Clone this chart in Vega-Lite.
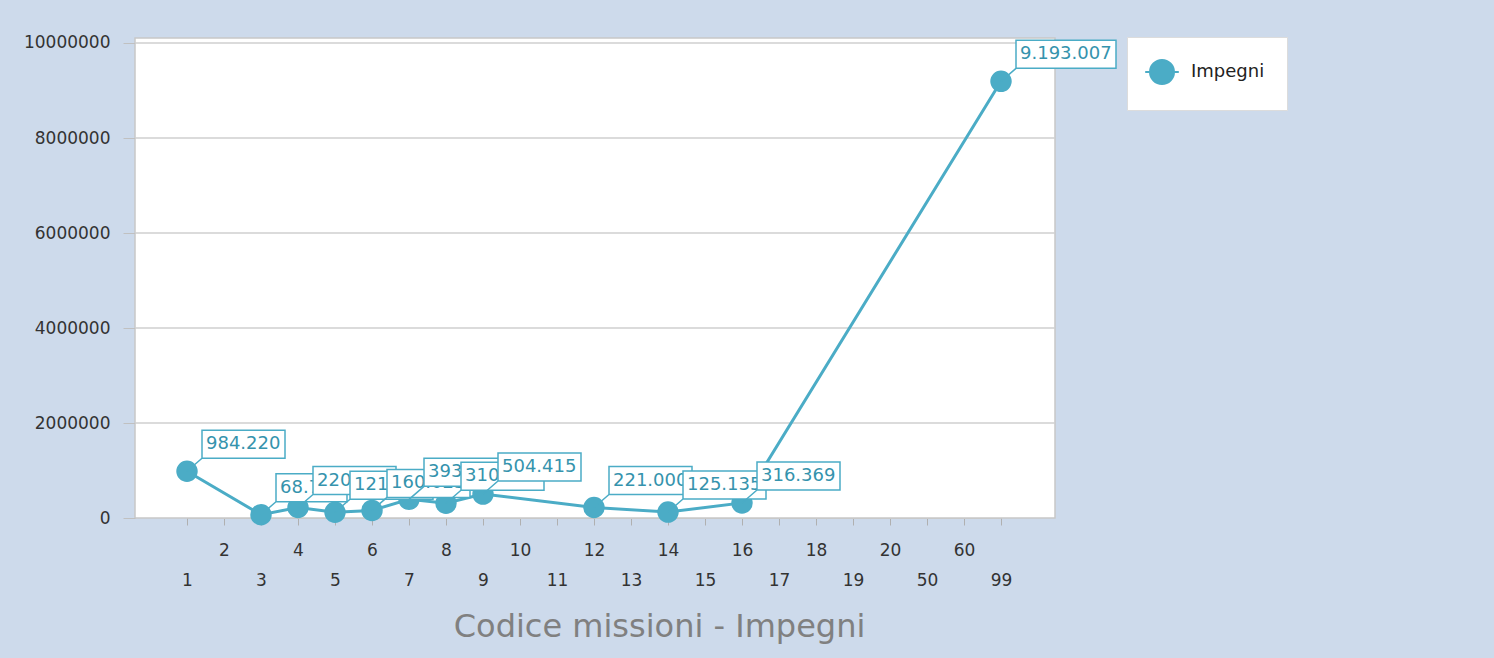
{
  "$schema": "https://vega.github.io/schema/vega-lite/v6.json",
  "width": 920,
  "height": 480,
  "autosize": {"type": "none"},
  "padding": {"left": 135, "top": 38, "right": 439, "bottom": 140},
  "background": "#cddaeb",
  "config": {
    "font": "DejaVu Sans",
    "locale": {"number": {"decimal": ",", "thousands": ".", "grouping": [3], "currency": ["€", ""]}},
    "view": {"fill": "white", "stroke": "#c8c8c8", "strokeWidth": 1.5},
    "axisY": {
      "title": null,
      "values": [0, 2000000, 4000000, 6000000, 8000000, 10000000],
      "format": "d",
      "labelFontSize": 17,
      "labelColor": "#333333",
      "tickSize": 12,
      "tickColor": "#c0c0c0",
      "labelPadding": 13,
      "domain": false,
      "grid": false
    }
  },
  "datasets": {
    "impegni": [
      {"codice": "1", "impegni": 984220},
      {"codice": "3", "impegni": 68736},
      {"codice": "4", "impegni": 220478},
      {"codice": "5", "impegni": 121560},
      {"codice": "6", "impegni": 160025},
      {"codice": "7", "impegni": 393120},
      {"codice": "8", "impegni": 310540},
      {"codice": "9", "impegni": 504415},
      {"codice": "12", "impegni": 221000},
      {"codice": "14", "impegni": 125135},
      {"codice": "16", "impegni": 316369},
      {"codice": "99", "impegni": 9193007}
    ],
    "griglia": [
      {"g": 2000000}, {"g": 4000000}, {"g": 6000000}, {"g": 8000000}, {"g": 10000000}
    ]
  },
  "layer": [
    {
      "data": {"name": "griglia"},
      "mark": {"type": "rule", "color": "#cfcfcf", "strokeWidth": 1.5},
      "encoding": {
        "y": {
          "field": "g",
          "type": "quantitative",
          "title": null,
          "scale": {"domain": [0, 10105263], "nice": false},
          "axis": {"values": [0, 2000000, 4000000, 6000000, 8000000, 10000000], "format": "d"}
        }
      }
    },
    {
      "data": {"name": "impegni"},
      "encoding": {
        "x": {
          "field": "codice",
          "type": "nominal",
          "scale": {"type": "point", "padding": 0, "range": [52, 866], "domain": ["1","2","3","4","5","6","7","8","9","10","11","12","13","14","15","16","17","18","19","20","50","60","99"]},
          "axis": {
            "title": "Codice missioni - Impegni",
            "titleFontSize": 32,
            "titleFontWeight": "normal",
            "titleColor": "#808080",
            "titleX": 524,
            "titleY": 118,
            "titleBaseline": "alphabetic",
            "titleAlign": "center",
            "labelAngle": 0,
            "labelFontSize": 17,
            "labelColor": "#333333",
            "labelBaseline": "top",
            "labelOverlap": false,
            "labelPadding": {"condition": {"test": "indexof(['2','4','6','8','10','12','14','16','18','20','60'], datum.value) >= 0", "value": 17}, "value": 47},
            "tickSize": 7,
            "tickColor": "#b0b0b0",
            "domainColor": "#c8c8c8",
            "grid": false
          }
        },
        "y": {
          "field": "impegni",
          "type": "quantitative",
          "title": null,
          "scale": {"domain": [0, 10105263], "nice": false},
          "axis": {"values": [0, 2000000, 4000000, 6000000, 8000000, 10000000], "format": "d"}
        }
      },
      "layer": [
        {"mark": {"type": "line", "color": "#4bacc6", "strokeWidth": 3}},
        {
          "mark": {"type": "point", "filled": true, "size": 460, "opacity": 1},
          "encoding": {
            "color": {
              "datum": "Impegni",
              "type": "nominal",
              "scale": {"range": ["#4bacc6"]},
              "legend": {
                "title": null,
                "orient": "none",
                "legendX": 992,
                "legendY": -1,
                "fillColor": "white",
                "strokeColor": "#dcdcdc",
                "padding": 22,
                "symbolType": "M-1.4,0L-1,0M1,0L1.4,0M-1,0A1,1,0,1,1,1,0A1,1,0,1,1,-1,0Z",
                "symbolSize": 576,
                "symbolFillColor": "#4bacc6",
                "symbolStrokeColor": "#4bacc6",
                "symbolStrokeWidth": 2,
                "labelFontSize": 18,
                "labelColor": "#222222",
                "labelOffset": 16
              }
            }
          }
        },
        {"transform": [{"filter": "datum.codice === '1'"}], "layer": [
          {"mark": {"type": "point", "shape": "M0,0L0.15,-0.13M0.15,-0.13L0.98,-0.13L0.98,-0.41L0.15,-0.41Z", "size": 40000, "filled": true, "fill": "white", "fillOpacity": 1, "opacity": 1, "stroke": "#4bacc6", "strokeWidth": 1.5}},
          {"mark": {"type": "text", "align": "left", "baseline": "middle", "dx": 19, "dy": -27, "fontSize": 18, "color": "#3593ad"}, "encoding": {"text": {"field": "impegni", "type": "quantitative", "format": ",d"}}}
        ]},
        {"transform": [{"filter": "datum.codice === '3'"}], "layer": [
          {"mark": {"type": "point", "shape": "M0,0L0.15,-0.13M0.15,-0.13L0.86,-0.13L0.86,-0.41L0.15,-0.41Z", "size": 40000, "filled": true, "fill": "white", "fillOpacity": 1, "opacity": 1, "stroke": "#4bacc6", "strokeWidth": 1.5}},
          {"mark": {"type": "text", "align": "left", "baseline": "middle", "dx": 19, "dy": -27, "fontSize": 18, "color": "#3593ad"}, "encoding": {"text": {"field": "impegni", "type": "quantitative", "format": ",d"}}}
        ]},
        {"transform": [{"filter": "datum.codice === '4'"}], "layer": [
          {"mark": {"type": "point", "shape": "M0,0L0.15,-0.13M0.15,-0.13L0.98,-0.13L0.98,-0.41L0.15,-0.41Z", "size": 40000, "filled": true, "fill": "white", "fillOpacity": 1, "opacity": 1, "stroke": "#4bacc6", "strokeWidth": 1.5}},
          {"mark": {"type": "text", "align": "left", "baseline": "middle", "dx": 19, "dy": -27, "fontSize": 18, "color": "#3593ad"}, "encoding": {"text": {"field": "impegni", "type": "quantitative", "format": ",d"}}}
        ]},
        {"transform": [{"filter": "datum.codice === '5'"}], "layer": [
          {"mark": {"type": "point", "shape": "M0,0L0.15,-0.13M0.15,-0.13L0.98,-0.13L0.98,-0.41L0.15,-0.41Z", "size": 40000, "filled": true, "fill": "white", "fillOpacity": 1, "opacity": 1, "stroke": "#4bacc6", "strokeWidth": 1.5}},
          {"mark": {"type": "text", "align": "left", "baseline": "middle", "dx": 19, "dy": -27, "fontSize": 18, "color": "#3593ad"}, "encoding": {"text": {"field": "impegni", "type": "quantitative", "format": ",d"}}}
        ]},
        {"transform": [{"filter": "datum.codice === '6'"}], "layer": [
          {"mark": {"type": "point", "shape": "M0,0L0.15,-0.13M0.15,-0.13L0.98,-0.13L0.98,-0.41L0.15,-0.41Z", "size": 40000, "filled": true, "fill": "white", "fillOpacity": 1, "opacity": 1, "stroke": "#4bacc6", "strokeWidth": 1.5}},
          {"mark": {"type": "text", "align": "left", "baseline": "middle", "dx": 19, "dy": -27, "fontSize": 18, "color": "#3593ad"}, "encoding": {"text": {"field": "impegni", "type": "quantitative", "format": ",d"}}}
        ]},
        {"transform": [{"filter": "datum.codice === '7'"}], "layer": [
          {"mark": {"type": "point", "shape": "M0,0L0.15,-0.13M0.15,-0.13L0.98,-0.13L0.98,-0.41L0.15,-0.41Z", "size": 40000, "filled": true, "fill": "white", "fillOpacity": 1, "opacity": 1, "stroke": "#4bacc6", "strokeWidth": 1.5}},
          {"mark": {"type": "text", "align": "left", "baseline": "middle", "dx": 19, "dy": -27, "fontSize": 18, "color": "#3593ad"}, "encoding": {"text": {"field": "impegni", "type": "quantitative", "format": ",d"}}}
        ]},
        {"transform": [{"filter": "datum.codice === '8'"}], "layer": [
          {"mark": {"type": "point", "shape": "M0,0L0.15,-0.13M0.15,-0.13L0.98,-0.13L0.98,-0.41L0.15,-0.41Z", "size": 40000, "filled": true, "fill": "white", "fillOpacity": 1, "opacity": 1, "stroke": "#4bacc6", "strokeWidth": 1.5}},
          {"mark": {"type": "text", "align": "left", "baseline": "middle", "dx": 19, "dy": -27, "fontSize": 18, "color": "#3593ad"}, "encoding": {"text": {"field": "impegni", "type": "quantitative", "format": ",d"}}}
        ]},
        {"transform": [{"filter": "datum.codice === '9'"}], "layer": [
          {"mark": {"type": "point", "shape": "M0,0L0.15,-0.13M0.15,-0.13L0.98,-0.13L0.98,-0.41L0.15,-0.41Z", "size": 40000, "filled": true, "fill": "white", "fillOpacity": 1, "opacity": 1, "stroke": "#4bacc6", "strokeWidth": 1.5}},
          {"mark": {"type": "text", "align": "left", "baseline": "middle", "dx": 19, "dy": -27, "fontSize": 18, "color": "#3593ad"}, "encoding": {"text": {"field": "impegni", "type": "quantitative", "format": ",d"}}}
        ]},
        {"transform": [{"filter": "datum.codice === '12'"}], "layer": [
          {"mark": {"type": "point", "shape": "M0,0L0.15,-0.13M0.15,-0.13L0.98,-0.13L0.98,-0.41L0.15,-0.41Z", "size": 40000, "filled": true, "fill": "white", "fillOpacity": 1, "opacity": 1, "stroke": "#4bacc6", "strokeWidth": 1.5}},
          {"mark": {"type": "text", "align": "left", "baseline": "middle", "dx": 19, "dy": -27, "fontSize": 18, "color": "#3593ad"}, "encoding": {"text": {"field": "impegni", "type": "quantitative", "format": ",d"}}}
        ]},
        {"transform": [{"filter": "datum.codice === '14'"}], "layer": [
          {"mark": {"type": "point", "shape": "M0,0L0.15,-0.13M0.15,-0.13L0.98,-0.13L0.98,-0.41L0.15,-0.41Z", "size": 40000, "filled": true, "fill": "white", "fillOpacity": 1, "opacity": 1, "stroke": "#4bacc6", "strokeWidth": 1.5}},
          {"mark": {"type": "text", "align": "left", "baseline": "middle", "dx": 19, "dy": -27, "fontSize": 18, "color": "#3593ad"}, "encoding": {"text": {"field": "impegni", "type": "quantitative", "format": ",d"}}}
        ]},
        {"transform": [{"filter": "datum.codice === '16'"}], "layer": [
          {"mark": {"type": "point", "shape": "M0,0L0.15,-0.13M0.15,-0.13L0.98,-0.13L0.98,-0.41L0.15,-0.41Z", "size": 40000, "filled": true, "fill": "white", "fillOpacity": 1, "opacity": 1, "stroke": "#4bacc6", "strokeWidth": 1.5}},
          {"mark": {"type": "text", "align": "left", "baseline": "middle", "dx": 19, "dy": -27, "fontSize": 18, "color": "#3593ad"}, "encoding": {"text": {"field": "impegni", "type": "quantitative", "format": ",d"}}}
        ]},
        {"transform": [{"filter": "datum.codice === '99'"}], "layer": [
          {"mark": {"type": "point", "shape": "M0,0L0.15,-0.13M0.15,-0.13L1.15,-0.13L1.15,-0.41L0.15,-0.41Z", "size": 40000, "filled": true, "fill": "white", "fillOpacity": 1, "opacity": 1, "stroke": "#4bacc6", "strokeWidth": 1.5}},
          {"mark": {"type": "text", "align": "left", "baseline": "middle", "dx": 19, "dy": -27, "fontSize": 18, "color": "#3593ad"}, "encoding": {"text": {"field": "impegni", "type": "quantitative", "format": ",d"}}}
        ]}
      ]
    }
  ]
}
